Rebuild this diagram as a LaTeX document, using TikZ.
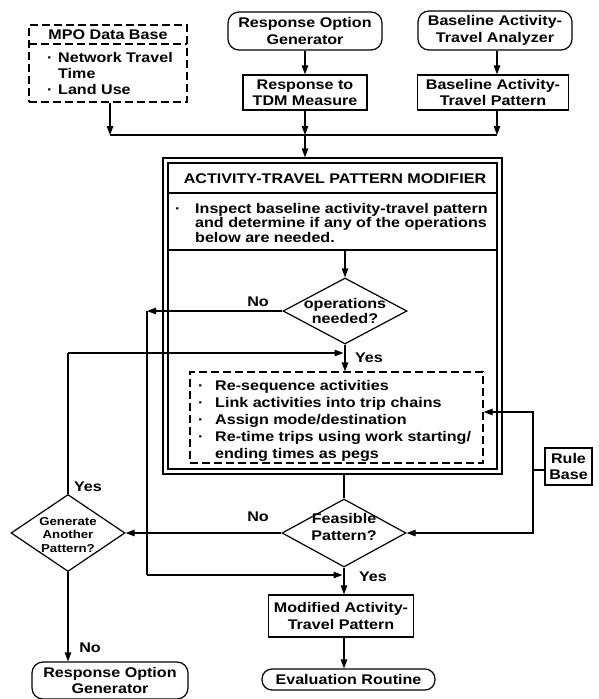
\documentclass[tikz,border=0pt]{standalone}
\usepackage{fontspec}
\setmainfont{Liberation Sans}[FakeStretch=1.15]
\usetikzlibrary{arrows.meta,shapes.geometric}

\newcommand{\fs}[2]{\bfseries\fontsize{#1}{#2}\selectfont}

\begin{document}
\begin{tikzpicture}[x=1pt,y=-1pt,
  every node/.style={font=\fs{14}{16.5}, inner sep=0pt},
  ln/.style={line width=1.2pt},
  arr/.style={ln, -{Triangle[length=9pt,width=6.5pt]}},
  box/.style={draw, ln, align=center},
  rbox/.style={box, rounded corners=11pt},
  dbox/.style={draw, ln, dash pattern=on 8pt off 4pt},
  dia/.style={draw, ln, diamond, inner sep=0pt}
]
\useasboundingbox[fill=white] (0,0) rectangle (598,699);

% ---------- inputs ----------
\node[dbox, minimum width=158pt, minimum height=77pt] (mpo) at (108,63.5) {};
\draw[dbox] (29,44) -- (187,44);
\node (mpot) at (108,35) {MPO Data Base};
\node[anchor=north west, align=left, font=\fs{14}{16}] (mpol) at (45,52)
  {\makebox[13pt][l]{\hspace{2pt}·}Network Travel\\
   \hspace*{13pt}Time\\
   \makebox[13pt][l]{\hspace{2pt}·}Land Use};

\node[rbox, minimum width=154pt, minimum height=38pt] (rog) at (305,31) {Response Option\\Generator};
\node[box, minimum width=124pt, minimum height=35pt] (tdm) at (305,92.5) {Response to\\TDM Measure};
\node[rbox, minimum width=154pt, minimum height=39pt] (baa) at (495,30.5) {Baseline Activity-\\Travel Analyzer};
\node[box, minimum width=151pt, minimum height=35pt] (batp) at (493,92.5) {Baseline Activity-\\Travel Pattern};

\coordinate (jL) at (110,135);
\coordinate (jM) at (305,135);
\coordinate (jR) at (497,135);

% ---------- modifier ----------
\node[draw, ln, minimum width=339pt, minimum height=316pt] (mod) at (332.5,316) {};
\draw[ln] (168,163) rectangle (497,469);
\draw[ln] (168,193) -- (497,193);
\draw[ln] (168,250) -- (497,250);
\node (modt) at (335,179) {ACTIVITY-TRAVEL PATTERN MODIFIER};
\node[anchor=north west, align=left, font=\fs{14}{14.5}] (insp) at (173,203)
  {\makebox[22pt][l]{\hspace{2pt}·}Inspect baseline activity-travel pattern\\
   \hspace*{22pt}and determine if any of the operations\\
   \hspace*{22pt}below are needed.};
\coordinate (sepB) at (345,250);

\node[dia, minimum width=124pt, minimum height=66pt] (ops) at (345,311) {};
\node[align=center, font=\fs{14}{15}] (opst) at (345,311) {operations\\needed?};

\node[dbox, minimum width=293pt, minimum height=91pt] (list) at (336.5,417.5) {};
\node[anchor=north west, align=left, font=\fs{14}{17}] (listt) at (196,380)
  {\makebox[19pt][l]{\hspace{2pt}·}Re-sequence activities\\
   \makebox[19pt][l]{\hspace{2pt}·}Link activities into trip chains\\
   \makebox[19pt][l]{\hspace{2pt}·}Assign mode/destination\\
   \makebox[19pt][l]{\hspace{2pt}·}Re-time trips using work starting/\\
   \hspace*{19pt}ending times as pegs};

\node[rbox, minimum width=47pt, minimum height=37pt, rounded corners=0pt, font=\fs{14}{16}] (rb) at (568.5,466.5) {Rule\\Base};

% ---------- lower decisions ----------
\node[dia, minimum width=124pt, minimum height=68pt] (feas) at (344,533) {};
\node[align=center] (feast) at (344,527) {Feasible\\Pattern?};
\node[dia, minimum width=114pt, minimum height=77pt] (gen) at (68,533) {};
\node[align=center, font=\fs{11.5}{13.5}] (gent) at (68,535) {Generate\\Another\\Pattern?};

\node[box, minimum width=145pt, minimum height=42pt] (modp) at (341,616) {Modified Activity-\\Travel Pattern};
\node[rbox, rounded corners=10pt, minimum width=173pt, minimum height=21pt] (eval) at (348.5,679.5) {Evaluation Routine};
\node[rbox, minimum width=156pt, minimum height=37pt] (rog2) at (110,680.5) {Response Option\\Generator};

% ---------- labels ----------
\node (no1) at (258,302) {No};
\node (yes1) at (369,358) {Yes};
\node (no2) at (258,517) {No};
\node (yes2) at (373,577) {Yes};
\node (yes3) at (88,487) {Yes};
\node (no3) at (90,648) {No};

% ---------- connectors ----------
\draw[arr] (jL |- mpo.south) -- (jL);
\draw[arr] (rog.south) -- (tdm.north);
\draw[arr] (tdm.south) -- (jM);
\draw[arr] (jR |- baa.south) -- (jR |- batp.north);
\draw[arr] (jR |- batp.south) -- (jR);
\draw[ln] (jL) -- (jR);
\draw[arr] (jM) -- (jM |- mod.north);

\draw[arr] (sepB) -- (ops.north);
\draw[arr] (ops.south) -- (ops.south |- list.north);

\coordinate (loopA) at (147,311);
\coordinate (loopB) at (147,575);
\draw[arr] (ops.west) -- (loopA);
\draw[ln] (loopA) -- (loopB);
\draw[arr] (loopB) -- ([xshift=-1.5pt]feas.south |- loopB);

\coordinate (genUp) at (68,353);
\draw[ln] (gen.north) -- (genUp);
\draw[arr] (genUp) -- ([xshift=-1.5pt]ops.south |- genUp);

\draw[ln] (feas.north |- mod.south) -- (feas.north);
\draw[arr] (feas.west) -- (gen.east);
\draw[arr] (feas.south) -- (feas.south |- modp.north);
\draw[arr] (feas.south |- modp.south) -- (feas.south |- eval.north);
\draw[arr] (gen.south) -- (gen.south |- rog2.north);

\coordinate (rbJ) at (533,470);
\coordinate (rbT) at (533,412);
\coordinate (rbB) at (533,533);
\draw[ln] (rb.west |- rbJ) -- (rbJ);
\draw[arr] (rbJ) -- (rbT) -- (rbT -| list.east);
\draw[arr] (rbJ) -- (rbB) -- (feas.east);
\end{tikzpicture}
\end{document}
